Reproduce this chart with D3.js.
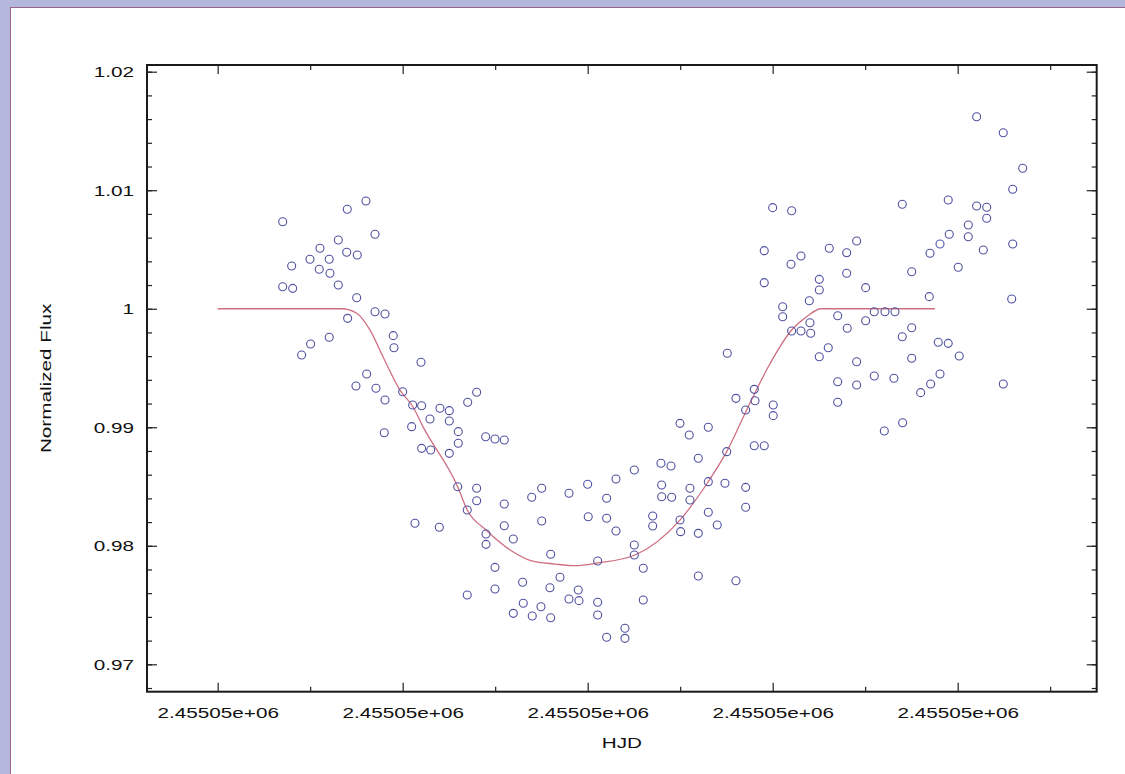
<!DOCTYPE html>
<html>
<head>
<meta charset="utf-8">
<script src="https://cdn.jsdelivr.net/npm/d3@7"></script>
<style>
  html, body { margin: 0; padding: 0; background: #b4b7dd; }
  #container { width: 1125px; height: 774px; overflow: hidden; }
</style>
</head>
<body>
<div id="container"></div>
<script>
// HJD values are stored as offsets from this base (days)
const hjdBase = 2455050;

const hjdOffset = [
  0.60703, 0.61603, 0.61401, 0.61701, 0.61304, 0.61106, 0.61395, 0.61509, 0.60998, 0.61206,
  0.60800, 0.61098, 0.61214, 0.61304, 0.60703, 0.60811, 0.61503, 0.61701, 0.61809, 0.61405,
  0.61206, 0.61005, 0.60908, 0.61898, 0.61906, 0.62198, 0.61611, 0.61495, 0.61711, 0.61809,
  0.62000, 0.62108, 0.62205, 0.62097, 0.61801, 0.62205,
  0.62800, 0.62703, 0.62403, 0.62504, 0.62295, 0.62504, 0.62601, 0.62897, 0.62998, 0.63098,
  0.62601, 0.62303, 0.62504, 0.62595, 0.62800, 0.62800, 0.62698, 0.63098, 0.63503, 0.63395,
  0.63798, 0.63503, 0.62133, 0.62396, 0.63098, 0.62901, 0.63196, 0.62901, 0.63600, 0.62998,
  0.63701, 0.63297, 0.63592, 0.62998, 0.63798, 0.62698, 0.63304, 0.63495, 0.63196, 0.63401,
  0.63600,
  0.64998, 0.65304, 0.65098, 0.65196, 0.64792, 0.64901, 0.64504, 0.64306, 0.64000, 0.64205,
  0.64800, 0.64800, 0.64908, 0.65106, 0.65106, 0.65304, 0.65484, 0.64006, 0.64205, 0.64306,
  0.64703, 0.64703, 0.64998, 0.65005, 0.65304, 0.65401, 0.65196, 0.64504, 0.64504, 0.64108,
  0.64601, 0.65196, 0.63898, 0.63906, 0.64108, 0.64108, 0.64601, 0.64403, 0.64403, 0.64205,
  0.66000, 0.66205, 0.65909, 0.66306, 0.66198, 0.66612, 0.66908, 0.66800, 0.66800, 0.67005,
  0.65909, 0.66504, 0.66504, 0.66396, 0.66108, 0.66108, 0.66205, 0.66306, 0.66403, 0.66411,
  0.66703, 0.66806, 0.67005, 0.67098, 0.66601, 0.66504, 0.66908, 0.67098, 0.66703, 0.66908,
  0.66703, 0.65509, 0.65801, 0.65603, 0.65809, 0.65708, 0.66006, 0.66006, 0.65503, 0.65801,
  0.65909, 0.65708, 0.65708, 0.65603,
  0.68205, 0.68493, 0.68703, 0.68595, 0.67401, 0.67898, 0.68205, 0.68314, 0.68314, 0.68115,
  0.68115, 0.67909, 0.67809, 0.67701, 0.68277, 0.68595, 0.68006, 0.67503, 0.67693, 0.68584,
  0.67214, 0.67322, 0.67503, 0.67401, 0.67790, 0.67898, 0.68017, 0.67503, 0.67311, 0.67809,
  0.67708, 0.67600, 0.68493, 0.67405, 0.67207
];

const flux = [
  1.00734, 1.00909, 1.00839, 1.00628, 1.00580, 1.00510, 1.00476, 1.00453, 1.00417, 1.00417,
  1.00361, 1.00333, 1.00299, 1.00200, 1.00186, 1.00172, 1.00093, 0.99975, 0.99956, 0.99919,
  0.99759, 0.99702, 0.99610, 0.99773, 0.99671, 0.99548, 0.99449, 0.99348, 0.99329, 0.99230,
  0.99300, 0.99188, 0.99182, 0.99005, 0.98954, 0.98822,
  0.99295, 0.99211, 0.99160, 0.99140, 0.99070, 0.99053, 0.98963, 0.98920, 0.98901, 0.98893,
  0.98865, 0.98808, 0.98780, 0.98498, 0.98485, 0.98380, 0.98302, 0.98353, 0.98485, 0.98409,
  0.98443, 0.98209, 0.98190, 0.98156, 0.98169, 0.98099, 0.98057, 0.98012, 0.97928, 0.97818,
  0.97734, 0.97692, 0.97646, 0.97635, 0.97551, 0.97585, 0.97515, 0.97486, 0.97430, 0.97408,
  0.97393,
  0.99033, 0.99000, 0.98935, 0.98738, 0.98696, 0.98673, 0.98639, 0.98563, 0.98519, 0.98401,
  0.98513, 0.98414, 0.98409, 0.98485, 0.98386, 0.98541, 0.98527, 0.98245, 0.98232, 0.98125,
  0.98251, 0.98167, 0.98217, 0.98119, 0.98283, 0.98175, 0.98105, 0.98007, 0.97922, 0.97872,
  0.97810, 0.97745, 0.97627, 0.97537, 0.97523, 0.97416, 0.97543, 0.97304, 0.97219, 0.97228,
  1.00853, 1.00827, 1.00490, 1.00445, 1.00375, 1.00510, 1.00572, 1.00473, 1.00299, 1.00178,
  1.00220, 1.00248, 1.00158, 1.00068, 1.00017, 0.99933, 0.99812, 0.99812, 0.99882, 0.99793,
  0.99941, 0.99835, 0.99899, 0.99975, 0.99671, 0.99595, 0.99553, 0.99432, 0.99384, 0.99357,
  0.99211, 0.99624, 0.99320, 0.99244, 0.99224, 0.99146, 0.99188, 0.99098, 0.98794, 0.98844,
  0.98844, 0.98493, 0.98325, 0.97705,
  1.01620, 1.01485, 1.01185, 1.01008, 1.00881, 1.00917, 1.00867, 1.00856, 1.00763, 1.00707,
  1.00608, 1.00628, 1.00546, 1.00468, 1.00496, 1.00546, 1.00350, 1.00312, 1.00102, 1.00082,
  0.99975, 0.99975, 0.99840, 0.99764, 0.99717, 0.99708, 0.99601, 0.99582, 0.99413, 0.99449,
  0.99365, 0.99292, 0.99365, 0.99038, 0.98968
];

// transit model curve
const modelHjdOffset = [0.60000, 0.61340, 0.61503, 0.61646, 0.61787, 0.61971, 0.62111, 0.62219,
  0.62595, 0.62698, 0.62901, 0.63214, 0.63395, 0.63646, 0.63862, 0.64111, 0.64511, 0.64998,
  0.65301, 0.65503, 0.65719, 0.65953, 0.66205, 0.66368, 0.66522, 0.67754];
const modelFlux = [1.00000, 1.00000, 0.99962, 0.99821, 0.99595, 0.99314, 0.99173, 0.99005,
  0.98498, 0.98302, 0.98133, 0.97939, 0.97872, 0.97846, 0.97832, 0.97855, 0.97922, 0.98217,
  0.98538, 0.98794, 0.99146, 0.99511, 0.99821, 0.99933, 1.00000, 1.00000];

const xMajorTicks = [0.60, 0.62, 0.64, 0.66, 0.68];
const xMinorTicks = [0.61, 0.63, 0.65, 0.67, 0.69];
const yMajorTicks = [0.97, 0.98, 0.99, 1.00, 1.01, 1.02];
const yMinorTicks = d3.range(0, 27).map(i => +(0.968 + i * 0.002).toFixed(3));

const xDomain = [0.59236, 0.69503];
const yDomain = [0.967688, 1.020565];

const W = 1125, H = 774;
const plot = {left: 147, top: 65, right: 1096.7, bottom: 691.7};
const stretch = 1.38;   // the reference glyphs are drawn wide

const x = d3.scaleLinear().domain(xDomain).range([plot.left, plot.right]);
const y = d3.scaleLinear().domain(yDomain).range([plot.bottom, plot.top]);

// 2455050.6 -> "2.45505e+06"
const fmtHjd = v => (hjdBase + v).toExponential(5).replace(/e([+-])(\d)$/, "e$10$2");
const fmtFlux = v => d3.format("~g")(+v.toFixed(3));

const svg = d3.select("#container").append("svg")
    .attr("width", W)
    .attr("height", H)
    .attr("font-family", "'Liberation Sans', Arial, sans-serif")
    .attr("font-size", 15);

// white page with thin maroon edge on the lavender background
svg.append("rect")
    .attr("x", 10.5).attr("y", 7.5)
    .attr("width", W).attr("height", H)
    .attr("fill", "#fff")
    .attr("stroke", "#9c6482")
    .attr("stroke-width", 1);

function widen(sel) {
  sel.each(function() {
    const len = this.getComputedTextLength();
    d3.select(this).attr("textLength", len * stretch).attr("lengthAdjust", "spacingAndGlyphs");
  });
}

// minor ticks on all four sides
const minor = [
  [d3.axisBottom(x).tickValues(xMinorTicks), `translate(0,${plot.bottom})`, -5],
  [d3.axisTop(x).tickValues(xMinorTicks), `translate(0,${plot.top})`, -5],
  [d3.axisLeft(y).tickValues(yMinorTicks), `translate(${plot.left},0)`, -5],
  [d3.axisRight(y).tickValues(yMinorTicks), `translate(${plot.right},0)`, -5]
];
minor.forEach(([ax, tr, size]) => {
  svg.append("g").attr("transform", tr)
    .call(ax.tickSize(size).tickFormat(""))
    .call(g => g.select(".domain").remove())
    .call(g => g.selectAll("line").attr("stroke", "#222").attr("stroke-width", 1.2));
});

// major ticks
const gx = svg.append("g")
    .attr("transform", `translate(0,${plot.bottom})`)
    .call(d3.axisBottom(x).tickValues(xMajorTicks).tickSize(-9).tickPadding(16).tickFormat(fmtHjd));
svg.append("g")
    .attr("transform", `translate(0,${plot.top})`)
    .call(d3.axisTop(x).tickValues(xMajorTicks).tickSize(-9).tickFormat(""));
const gy = svg.append("g")
    .attr("transform", `translate(${plot.left},0)`)
    .call(d3.axisLeft(y).tickValues(yMajorTicks).tickSize(-10).tickPadding(13).tickFormat(fmtFlux));
svg.append("g")
    .attr("transform", `translate(${plot.right},0)`)
    .call(d3.axisRight(y).tickValues(yMajorTicks).tickSize(-10).tickFormat(""));

svg.selectAll(".domain").remove();
svg.selectAll(".tick line").attr("stroke", "#222").attr("stroke-width", 1.2);
svg.selectAll(".tick text").attr("fill", "#111").attr("font-size", 15)
    .attr("font-family", "'Liberation Sans', Arial, sans-serif");
gx.selectAll(".tick text").call(widen);
gy.selectAll(".tick text").call(widen);

// frame
svg.append("rect")
    .attr("x", plot.left).attr("y", plot.top)
    .attr("width", plot.right - plot.left)
    .attr("height", plot.bottom - plot.top)
    .attr("fill", "none")
    .attr("stroke", "#1a1a1a")
    .attr("stroke-width", 2);

// model curve
const model = modelHjdOffset.map((t, i) => [t, modelFlux[i]]);
svg.append("path")
    .datum(model)
    .attr("fill", "none")
    .attr("stroke", "#cf6f82")
    .attr("stroke-width", 1.3)
    .attr("d", d3.line().x(d => x(d[0])).y(d => y(d[1])).curve(d3.curveMonotoneX));

// observations
svg.append("g")
    .attr("fill", "none")
    .attr("stroke", "#4f52a0")
    .attr("stroke-width", 1.1)
  .selectAll("circle")
  .data(hjdOffset.map((t, i) => [t, flux[i]]))
  .join("circle")
    .attr("cx", d => x(d[0]))
    .attr("cy", d => y(d[1]))
    .attr("r", 4);

// axis titles
svg.append("text")
    .attr("x", (plot.left + plot.right) / 2)
    .attr("y", 748)
    .attr("text-anchor", "middle")
    .attr("fill", "#111")
    .text("HJD")
    .call(widen);

svg.append("text")
    .attr("transform", `translate(51,${(plot.top + plot.bottom) / 2}) rotate(-90)`)
    .attr("text-anchor", "middle")
    .attr("fill", "#111")
    .text("Normalized Flux")
    .call(widen);
</script>
</body>
</html>
